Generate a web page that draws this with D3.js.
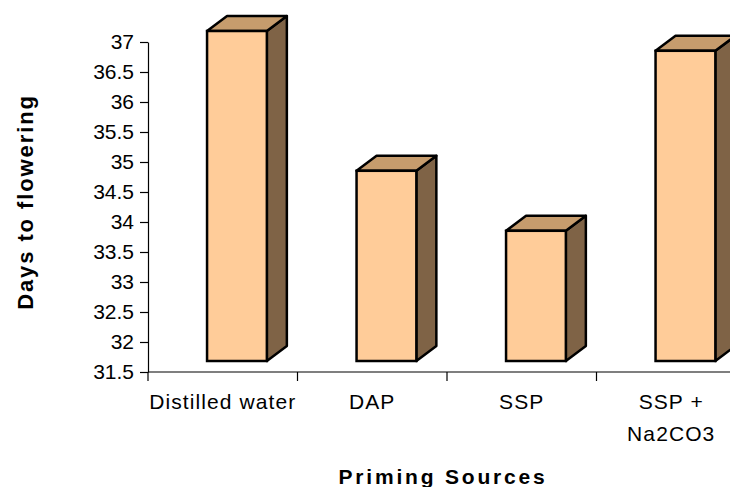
<!DOCTYPE html>
<html>
<head>
<meta charset="utf-8">
<script src="https://cdn.jsdelivr.net/npm/d3@7"></script>
<style>
    body { margin: 0; background: #fff; }
    text { font-family: "Liberation Sans", Arial, sans-serif; fill: #000; }
</style>
</head>
<body>
<div id="chart"></div>
<script>
// the data
const categories = ['Distilled water', 'DAP', 'SSP', 'SSP + Na2CO3']
const xLabels = [['Distilled water'], ['DAP'], ['SSP'], ['SSP +', 'Na2CO3']]
const days = [37, 34.67, 33.67, 36.67]
const yTicks = [31.5, 32, 32.5, 33, 33.5, 34, 34.5, 35, 35.5, 36, 36.5, 37]

// dimensions
const w = 730
const h = 487
const pLeft = 148
const pBottom = 372
const pTop = 42

// 3d offsets
const depthX = 20
const depthY = -15
const lift = 11

const svg = d3.select('#chart')
    .append('svg')
    .attr('width', w)
    .attr('height', h)

// scales
const xScale = d3.scaleBand()
    .domain(categories)
    .range([pLeft, pLeft + 149.5 * 4])
    .paddingInner(0)
    .paddingOuter(0)

const yScale = d3.scaleLinear()
    .domain([31.5, 37])
    .range([pBottom, pTop])

// bars
const bw = xScale.bandwidth()
const bars = svg.selectAll('g.bar')
    .data(categories.map((c, i) => ({ c: c, v: days[i] })))
    .enter()
    .append('g')
    .attr('class', 'bar')

const fx = d => xScale(d.c) + bw * 0.395
const fw = bw * 0.4
const fyTop = d => yScale(d.v) - lift
const fyBot = yScale(31.5) - lift

// side face
bars.append('path')
    .attr('d', d => {
        const x = fx(d) + fw
        return `M${x},${fyTop(d)} L${x + depthX},${fyTop(d) + depthY} L${x + depthX},${fyBot + depthY} L${x},${fyBot} Z`
    })
    .attr('fill', '#7f6346')
    .attr('stroke', '#000')
    .attr('stroke-width', 2.5)
    .attr('stroke-linejoin', 'round')

// top face
bars.append('path')
    .attr('d', d => {
        const x = fx(d), y = fyTop(d)
        return `M${x},${y} L${x + depthX},${y + depthY} L${x + fw + depthX},${y + depthY} L${x + fw},${y} Z`
    })
    .attr('fill', '#c69c6d')
    .attr('stroke', '#000')
    .attr('stroke-width', 2.5)
    .attr('stroke-linejoin', 'round')

// front face
bars.append('rect')
    .attr('x', fx)
    .attr('y', fyTop)
    .attr('width', fw)
    .attr('height', d => fyBot - fyTop(d))
    .attr('fill', '#ffcc99')
    .attr('stroke', '#000')
    .attr('stroke-width', 2.5)

// y axis
const yAxis = d3.axisLeft(yScale)
    .tickValues(yTicks)
    .tickFormat(d => d)
    .tickSize(8)
    .tickSizeOuter(0)
    .tickPadding(6)

const gy = svg.append('g')
    .attr('transform', `translate(${pLeft},0)`)
    .call(yAxis)
gy.selectAll('text')
    .style('font-size', '21px')
    .style('font-family', '"Liberation Sans", Arial, sans-serif')
    .attr('fill', '#000')
gy.selectAll('line, path').attr('stroke', '#000').attr('stroke-width', 1.2)

// x axis line and band ticks
svg.append('line')
    .attr('x1', pLeft).attr('x2', w)
    .attr('y1', pBottom).attr('y2', pBottom)
    .attr('stroke', '#000').attr('stroke-width', 1.2)

svg.selectAll('line.xtick')
    .data(categories)
    .enter()
    .append('line')
    .attr('class', 'xtick')
    .attr('x1', d => xScale(d)).attr('x2', d => xScale(d))
    .attr('y1', pBottom).attr('y2', pBottom + 9)
    .attr('stroke', '#000').attr('stroke-width', 1.2)

// x labels
const xl = svg.selectAll('text.xlabel')
    .data(xLabels)
    .enter()
    .append('text')
    .attr('class', 'xlabel')
    .attr('text-anchor', 'middle')
    .style('font-size', '21px')
    .style('letter-spacing', '1.1px')

xl.selectAll('tspan')
    .data((d, i) => d.map(t => ({ t: t, c: categories[i] })))
    .enter()
    .append('tspan')
    .attr('x', d => xScale(d.c) + bw / 2)
    .attr('y', (d, j) => 409 + j * 32)
    .text(d => d.t)

// axis titles
svg.append('text')
    .attr('x', 443)
    .attr('y', 484)
    .attr('text-anchor', 'middle')
    .style('font-size', '21px')
    .style('font-weight', 'bold')
    .style('letter-spacing', '2.8px')
    .text('Priming Sources')

svg.append('text')
    .attr('transform', 'translate(33,202) rotate(-90)')
    .attr('text-anchor', 'middle')
    .style('font-size', '22px')
    .style('font-weight', 'bold')
    .style('letter-spacing', '1.9px')
    .text('Days to flowering')
</script>
</body>
</html>
